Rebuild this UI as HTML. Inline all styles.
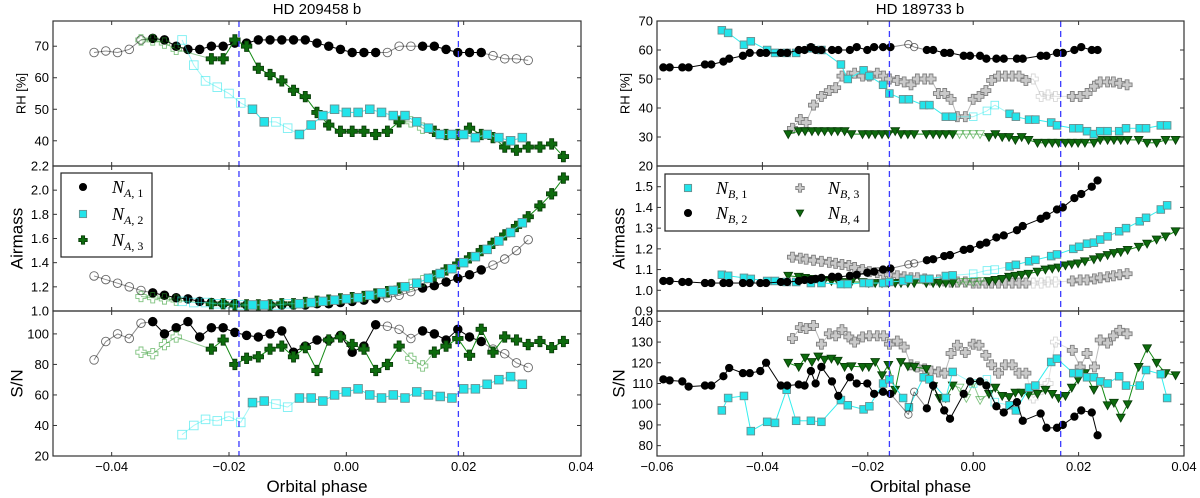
<!DOCTYPE html>
<html><head><meta charset="utf-8">
<style>
html,body{margin:0;padding:0;background:#fff;}
svg{display:block;font-family:"Liberation Sans",sans-serif;}
</style></head>
<body>
<svg id="fig" width="1200" height="498" viewBox="0 0 1200 498" xmlns="http://www.w3.org/2000/svg">
<defs>
<clipPath id="cl0"><rect x="53" y="21" width="528" height="145"/></clipPath>
<clipPath id="cl1"><rect x="53" y="166" width="528" height="145"/></clipPath>
<clipPath id="cl2"><rect x="53" y="311" width="528" height="145"/></clipPath>
<clipPath id="cr0"><rect x="657" y="21" width="527" height="145"/></clipPath>
<clipPath id="cr1"><rect x="657" y="166" width="527" height="145"/></clipPath>
<clipPath id="cr2"><rect x="657" y="311" width="527" height="145"/></clipPath>
</defs>
<text x="317" y="14" font-size="15" text-anchor="middle">HD 209458 b</text>
<text x="920" y="14" font-size="15" text-anchor="middle">HD 189733 b</text>
<g id="content"></g>
</svg>
<script>
// ---------- LEFT: HD 209458 b ----------
const phasesA1 = [-0.043,-0.041,-0.039,-0.037,-0.035,-0.033,-0.031,-0.029,-0.027,-0.025,-0.023,-0.021,-0.019,-0.017,-0.015,-0.013,-0.011,-0.009,-0.007,-0.005,-0.003,-0.001,0.001,0.003,0.005,0.007,0.009,0.011,0.013,0.015,0.017,0.019,0.021,0.023,0.025,0.027,0.029,0.031];
const rhA1 = [68,68.5,68,69,72,72.5,72,70,69,69,70,70,71,71,72,72,72,72,72,71,70,69,68,68,68,68,70,70,70,70,69,68,68,68,67,66,66,65.5];
const amA1 = [1.29,1.26,1.23,1.20,1.17,1.15,1.13,1.11,1.10,1.08,1.07,1.06,1.06,1.05,1.05,1.05,1.05,1.05,1.05,1.06,1.06,1.07,1.08,1.09,1.10,1.11,1.13,1.16,1.19,1.21,1.24,1.27,1.30,1.34,1.38,1.43,1.50,1.59];
const snA1 = [83,95,100,97,107,108,100,104,108,98,104,104,101,99,98,100,102,88,92,96,96,99,88,92,106,105,103,97,102,100,96,103,98,95,90,87,81,78];
const openA1 = [0,1,2,3,4,25,26,27,34,35,36,37];

const phasesA2 = [-0.028,-0.026,-0.024,-0.022,-0.020,-0.018,-0.016,-0.014,-0.012,-0.010,-0.008,-0.006,-0.004,-0.002,0.000,0.002,0.004,0.006,0.008,0.010,0.012,0.014,0.016,0.018,0.020,0.022,0.024,0.026,0.028,0.030];
const rhA2 = [72,64,59,57,55,52,50,46,46,44,42,45,48,50,49,49,50,49,48,48,46,44,42,42,42,41,42,41,40,41];
const amA2 = [1.08,1.07,1.07,1.06,1.06,1.05,1.05,1.05,1.05,1.06,1.06,1.07,1.08,1.09,1.10,1.11,1.13,1.15,1.17,1.20,1.23,1.27,1.31,1.35,1.40,1.45,1.51,1.58,1.65,1.73];
const snA2 = [34,40,44,43,46,42,55,56,54,52,58,58,56,60,62,64,60,58,60,58,62,60,59,58,64,64,67,70,72,67];
const openA2 = [0,1,2,3,4,5,8,9];

const phasesA3 = [-0.035,-0.033,-0.031,-0.029,-0.023,-0.021,-0.019,-0.017,-0.015,-0.013,-0.011,-0.009,-0.007,-0.005,-0.003,-0.001,0.001,0.003,0.005,0.007,0.009,0.011,0.013,0.015,0.017,0.019,0.021,0.023,0.025,0.027,0.029,0.031,0.033,0.035,0.037];
const rhA3 = [72,72,71,69,66,66,72,70,63,61,59,56,54,49,45,43,43,43,42,43,46,46,44,43,42,42,44,42,41,38,37,38,38,39,35];
const amA3 = [1.12,1.11,1.10,1.09,1.06,1.06,1.05,1.05,1.05,1.05,1.06,1.06,1.07,1.08,1.09,1.10,1.11,1.12,1.14,1.16,1.19,1.22,1.25,1.29,1.34,1.39,1.44,1.50,1.56,1.63,1.70,1.78,1.87,1.97,2.10];
const snA3 = [88,87,93,98,90,96,80,84,85,90,92,85,91,76,96,98,93,90,76,80,92,84,79,88,92,97,86,103,88,98,96,93,95,91,95];
const openA3 = [0,1,2,3,21,22];

const transitLeft = [-0.0183, 0.0191];

// ---------- RIGHT: HD 189733 b ----------
const phasesB1 = [-0.0477,-0.0465,-0.0435,-0.0422,-0.0391,-0.0376,-0.0354,-0.0336,-0.0308,-0.0288,-0.0251,-0.0238,-0.0208,-0.0197,-0.0171,-0.0159,-0.0133,-0.0122,-0.0094,-0.0083,-0.0052,-0.0039,0.0000,0.0026,0.0041,0.0069,0.0081,0.0106,0.0118,0.0148,0.0159,0.0190,0.0201,0.0216,0.0229,0.0241,0.0255,0.0277,0.0290,0.0316,0.0328,0.0356,0.0368];
const rhB1 = [66.8,65.9,61.8,63,60,59,59,59,60.6,60,55,50,53,51,48,45,43,43,41,41,37,37,37,39,41,38,37,36,36,35,34,33,33,32,31,32,32,32,33,33,33,34,34];
const amB1 = [1.075,1.07,1.06,1.055,1.045,1.045,1.04,1.04,1.035,1.035,1.03,1.03,1.035,1.035,1.035,1.04,1.045,1.055,1.055,1.055,1.069,1.072,1.08,1.096,1.10,1.115,1.123,1.14,1.147,1.165,1.173,1.20,1.21,1.225,1.23,1.245,1.26,1.285,1.30,1.333,1.35,1.39,1.41];
const snB1 = [97,103,104,87,91.5,91,107,92,92,91.5,102,99.5,97.5,99,110,112,103,98.5,113,112,103,115.6,110,112,101,99.5,97,108,109,120.4,122,115,115,113,113,111,110,113.5,109,109,116.5,114.5,103];
const openB1 = [22,23,24];

const phasesB2 = [-0.0588,-0.0576,-0.0552,-0.0540,-0.0509,-0.0497,-0.0474,-0.0463,-0.0437,-0.0424,-0.0404,-0.0393,-0.0365,-0.0353,-0.0331,-0.0320,-0.0308,-0.0299,-0.0288,-0.0268,-0.0256,-0.0234,-0.0221,-0.0201,-0.0188,-0.0171,-0.0157,-0.0123,-0.0112,-0.0088,-0.0076,-0.0055,-0.0044,-0.0018,-0.0006,0.0013,0.0025,0.0044,0.0058,0.0083,0.0094,0.0128,0.0139,0.0159,0.0170,0.0192,0.0205,0.0225,0.0236];
const rhB2 = [54,54,54,54,55,55,56,57,58,59,59,59,59,59,60,60,61,60,60,60,60,60,61,60,61,61,61,62,61,60,60,59,59,58,58,58,57,57,57,57,57,58,58,59,59,60,61,60,60];
const amB2 = [1.045,1.045,1.04,1.04,1.035,1.035,1.035,1.035,1.035,1.035,1.035,1.035,1.04,1.04,1.045,1.05,1.05,1.055,1.06,1.065,1.065,1.07,1.075,1.085,1.09,1.10,1.105,1.125,1.13,1.145,1.15,1.165,1.17,1.195,1.20,1.22,1.23,1.255,1.265,1.29,1.31,1.345,1.36,1.39,1.40,1.445,1.465,1.50,1.53];
const snB2 = [112,111.5,111,108.5,109,109,113.5,117.5,115,115,116,120,109,109,109.5,109,116,110,118,111,104,113,110,110,105,106,105,95,106,98,109,97,93,105,111,111,109,99,96,101,92,95.5,88.6,88.6,90,94,97,96,85];
const openB2 = [27,28];

const phasesB3 = [-0.0343,-0.0328,-0.0317,-0.0303,-0.0288,-0.0273,-0.0261,-0.0249,-0.0236,-0.0225,-0.0210,-0.0197,-0.0182,-0.0170,-0.0159,-0.0144,-0.0131,-0.0118,-0.0106,-0.0092,-0.0080,-0.0066,-0.0054,-0.0042,-0.0030,-0.0015,0.0000,0.0011,0.0024,0.0035,0.0048,0.0061,0.0074,0.0087,0.0100,0.0114,0.0129,0.0142,0.0156,0.0188,0.0203,0.0216,0.0230,0.0241,0.0255,0.0266,0.0278,0.0292];
const rhB3 = [33,36,35,41,44,46,47,51,51,52,51,51,52,51,50,49.5,49,48,50,50,50,45,45,43,37,37,43,44,46,49.5,51,51,51,51,49.5,50,44,44.5,44,44,44,45,47.5,49,49,49,48.5,48];
const amB3 = [1.16,1.155,1.15,1.145,1.14,1.135,1.13,1.125,1.12,1.11,1.10,1.09,1.085,1.08,1.075,1.07,1.065,1.06,1.06,1.055,1.05,1.05,1.045,1.04,1.04,1.04,1.035,1.035,1.035,1.035,1.035,1.035,1.035,1.035,1.035,1.035,1.035,1.04,1.04,1.045,1.05,1.05,1.055,1.06,1.065,1.07,1.075,1.08];
const snB3 = [131.7,137,136.5,138,129,134,133,136,132.5,130,132.5,133,133,133,129,130.5,127.6,119,118,117,116,115.6,115,124.5,128.5,125,129,128.5,123.6,119,115,119,119,115,115,103,107,110,130,126,118,124.5,118,131,129.5,133,135.7,134];
const openB3 = [35,36,37,38];

const phasesB4 = [-0.0351,-0.0331,-0.0319,-0.0306,-0.0294,-0.0282,-0.0269,-0.0257,-0.0244,-0.0231,-0.0210,-0.0198,-0.0186,-0.0173,-0.0161,-0.0148,-0.0137,-0.0124,-0.0112,-0.0089,-0.0076,-0.0064,-0.0052,-0.0039,-0.0026,-0.0013,0.0000,0.0013,0.0030,0.0042,0.0055,0.0068,0.0080,0.0092,0.0105,0.0122,0.0137,0.0150,0.0162,0.0175,0.0187,0.0199,0.0212,0.0229,0.0241,0.0255,0.0267,0.0280,0.0293,0.0314,0.0330,0.0348,0.0365,0.0384];
const rhB4 = [31,32,32,32,32,32,32,32,32,31,31,31,31,31,31,32,31,31,31,31,31,31,31,31,31,31,31,31,30,31,30,30,29,30,29,28,28,28,28,28,28,28,28,28,29,29,29,29,29,29,28,28,29,29];
const amB4 = [1.07,1.065,1.06,1.055,1.05,1.05,1.045,1.045,1.04,1.04,1.04,1.035,1.035,1.035,1.035,1.035,1.035,1.035,1.035,1.035,1.035,1.035,1.035,1.035,1.04,1.04,1.04,1.045,1.045,1.05,1.055,1.065,1.07,1.075,1.08,1.09,1.10,1.105,1.11,1.12,1.125,1.13,1.14,1.15,1.16,1.17,1.18,1.185,1.195,1.21,1.225,1.245,1.26,1.285];
const snB4 = [120,118,122.5,120.4,123,121.5,122,121,118,118.3,118,118,120.4,114,119,107,120.4,118.3,118,117,108.7,103,103,109,108,103,110,102,105,108,104,103.5,105.6,105.6,104.7,105,107,105,103,104,108,112,115,107,111,99.5,100.7,93.5,100,118,127,120,115,114];
const openB4 = [24,25,26,27];

const transitRight = [-0.0159, 0.0166];

// axis tick labels
const xTicksLeft = [-0.04,-0.02,0.00,0.02,0.04];
const xTicksRight = [-0.06,-0.04,-0.02,0.00,0.02,0.04];
const yTicksLeftRH = [40,50,60,70];
const yTicksLeftAM = [1.0,1.2,1.4,1.6,1.8,2.0,2.2];
const yTicksLeftSN = [20,40,60,80,100];
const yTicksRightRH = [20,30,40,50,60,70];
const yTicksRightAM = [0.9,1.0,1.1,1.2,1.3,1.4,1.5];
const yTicksRightSN = [80,90,100,110,120,130,140];

// ---------- drawing ----------
const NS = "http://www.w3.org/2000/svg";
const root = document.getElementById('content');
function mk(tag, attrs, parent){
  const e = document.createElementNS(NS, tag);
  for (const k in attrs) e.setAttribute(k, attrs[k]);
  (parent||root).appendChild(e);
  return e;
}
const rows = [[21,166],[166,311],[311,456]];
const panels = {
  L:{x0:53,x1:581,xmin:-0.05,xmax:0.04,ranges:[[32,78],[1.0,2.2],[20,115]],clip:['cl0','cl1','cl2'],
     yt:[yTicksLeftRH,yTicksLeftAM,yTicksLeftSN],xt:xTicksLeft,fmt:[0,1,0],lblX:[21,17,17]},
  R:{x0:657,x1:1184,xmin:-0.06,xmax:0.04,ranges:[[20,70],[0.9,1.6],[75,145]],clip:['cr0','cr1','cr2'],
     yt:[yTicksRightRH,yTicksRightAM,yTicksRightSN],xt:xTicksRight,fmt:[0,1,0],lblX:[625,619,619]}
};
function xs(P,v){return P.x0+(v-P.xmin)/(P.xmax-P.xmin)*(P.x1-P.x0);}
function ys(P,r,v){const [a,b]=P.ranges[r];const [t,bt]=rows[r];return bt-(v-a)/(b-a)*(bt-t);}

function marker(g,type,x,y,s,fill,stroke,op){
  let e;
  if(type==='circle'){e=mk('circle',{cx:x,cy:y,r:s},g);}
  else if(type==='square'){e=mk('rect',{x:x-s,y:y-s,width:2*s,height:2*s},g);}
  else if(type==='tri'){e=mk('polygon',{points:`${x-s},${y-s*0.8} ${x+s},${y-s*0.8} ${x},${y+s}`},g);}
  else if(type==='plus'){const a=s, w=s*0.38;
    e=mk('polygon',{points:`${x-w},${y-a} ${x+w},${y-a} ${x+w},${y-w} ${x+a},${y-w} ${x+a},${y+w} ${x+w},${y+w} ${x+w},${y+a} ${x-w},${y+a} ${x-w},${y+w} ${x-a},${y+w} ${x-a},${y-w} ${x-w},${y-w}`},g);}
  e.setAttribute('fill',fill);e.setAttribute('stroke',stroke);e.setAttribute('stroke-width','0.9');
  if(op!==undefined)e.setAttribute('opacity',op);
  return e;
}

function series(P,r,name,phases,vals,openIdx,st){
  const g=mk('g',{'clip-path':`url(#${P.clip[r]})`});
  
  
  const pts=phases.map((p,i)=>[xs(P,p),ys(P,r,vals[i])]);
  for(let i=0;i<pts.length-1;i++){
    const op=(openIdx.includes(i)||openIdx.includes(i+1))?0.45:1;
    mk('line',{x1:pts[i][0],y1:pts[i][1],x2:pts[i+1][0],y2:pts[i+1][1],stroke:st.line,'stroke-width':1,opacity:op},g);
  }
  pts.forEach((p,i)=>{
    const isOpen=openIdx.includes(i);
    const m = isOpen ? marker(g,st.m,p[0],p[1],st.s,'none',st.openStroke,0.6)
                     : marker(g,st.m,p[0],p[1],st.s,st.fill,st.edge);
    
    
  });
}

const stA1={m:'circle',s:4.3,fill:'#000',edge:'#000',line:'#000',openStroke:'#000'};
const stA2={m:'square',s:4.3,fill:'#22e4ea',edge:'#6a8f8f',line:'#33eeee',openStroke:'#22e4ea'};
const stA3={m:'plus',s:5.2,fill:'#0d6b0d',edge:'#0a3f0a',line:'#138a13',openStroke:'#2a9a2a'};
const stB1={m:'square',s:3.8,fill:'#22e4ea',edge:'#6a8f8f',line:'#33eeee',openStroke:'#22e4ea'};
const stB2={m:'circle',s:3.7,fill:'#000',edge:'#000',line:'#000',openStroke:'#000'};
const stB3={m:'plus',s:5,fill:'#c9c9c9',edge:'#7f7f7f',line:'#bbbbbb',openStroke:'#bdbdbd'};
const stB4={m:'tri',s:4.3,fill:'#0d6b0d',edge:'#0a3f0a',line:'#138a13',openStroke:'#2a9a2a'};

function axes(P,key){
  for(let r=0;r<3;r++){
    const [t,b]=rows[r];
    const fr=mk('rect',{x:P.x0,y:t,width:P.x1-P.x0,height:b-t,fill:'none',stroke:'#333','stroke-width':1.2});
    
    
    P.yt[r].forEach(v=>{
      const y=ys(P,r,v);
      mk('line',{x1:P.x0,y1:y,x2:P.x0+4,y2:y,stroke:'#333'});
      mk('line',{x1:P.x1,y1:y,x2:P.x1-4,y2:y,stroke:'#333'});
      const tx=mk('text',{x:P.x0-4,y:y+4.5,'font-size':13,'text-anchor':'end'});
      tx.textContent = P.fmt[r]? v.toFixed(1) : String(v);
      
      
    });
    P.xt.forEach(v=>{
      const x=xs(P,v);
      mk('line',{x1:x,y1:t,x2:x,y2:t+4,stroke:'#333'});
      mk('line',{x1:x,y1:b,x2:x,y2:b-4,stroke:'#333'});
    });
  }
  P.xt.forEach(v=>{
    const tx=mk('text',{x:xs(P,v),y:471,'font-size':13,'text-anchor':'middle'});
    tx.textContent=(v<0?'\u2212':'')+Math.abs(v).toFixed(2);
    
    
  });
  const xl=mk('text',{x:(P.x0+P.x1)/2,y:492,'font-size':17,'text-anchor':'middle'});
  xl.textContent='Orbital phase';
  
  
  const labels=['RH [%]','Airmass','S/N'], sz=[13,17,17];
  for(let r=0;r<3;r++){
    const cy=(rows[r][0]+rows[r][1])/2, cx=P.lblX[r];
    const tl=mk('text',{x:cx,y:cy,'font-size':sz[r],'text-anchor':'middle',transform:`rotate(-90 ${cx} ${cy})`,'dominant-baseline':'central'});
    tl.textContent=labels[r];
    
    
  }
}

const L=panels.L, R=panels.R;
[[0,rhA1,rhA2,rhA3],[1,amA1,amA2,amA3],[2,snA1,snA2,snA3]].forEach(([r,a1,a2,a3])=>{
  series(L,r,'series-na1',phasesA1,a1,openA1,stA1);
  series(L,r,'series-na3',phasesA3,a3,openA3,stA3);
  series(L,r,'series-na2',phasesA2,a2,openA2,stA2);
});
[[0,rhB1,rhB2,rhB3,rhB4],[1,amB1,amB2,amB3,amB4],[2,snB1,snB2,snB3,snB4]].forEach(([r,b1,b2,b3,b4])=>{
  series(R,r,'series-nb3',phasesB3,b3,openB3,stB3);
  series(R,r,'series-nb4',phasesB4,b4,openB4,stB4);
  series(R,r,'series-nb1',phasesB1,b1,openB1,stB1);
  series(R,r,'series-nb2',phasesB2,b2,openB2,stB2);
});
[[L,transitLeft,'left'],[R,transitRight,'right']].forEach(([P,arr,k])=>{
  arr.forEach(v=>{
    const ln=mk('line',{x1:xs(P,v),y1:21,x2:xs(P,v),y2:456,stroke:'#3b3bff','stroke-width':1.3,'stroke-dasharray':'6,4'});
    
    
  });
});
axes(L,'left'); axes(R,'right');

function legend(key,box,entries){
  const g=mk('g',{});
  
  
  mk('rect',{x:box[0],y:box[1],width:box[2],height:box[3],fill:'#fff',stroke:'#222','stroke-width':1.2},g);
  entries.forEach(en=>{
    const e=mk('g',{},g);
    
    
    marker(e,en.st.m,en.mx,en.y,en.st.m==='plus'?4.2:3.6,en.st.fill,en.st.edge);
    const t=mk('text',{x:en.tx,y:en.y+6,'font-size':18,'font-family':'"Liberation Serif",serif','font-style':'italic'},e);
    t.textContent='N';
    const s=mk('tspan',{'font-size':12,dy:4},t); s.textContent=en.sub[0];
    const s2=mk('tspan',{'font-size':12,'font-style':'normal'},t); s2.textContent=', '+en.sub[1];
  });
}
legend('left',[61,173,91,84],[
  {id:'na1',st:stA1,mx:83,tx:112,y:187,sub:['A','1']},
  {id:'na2',st:stA2,mx:83,tx:112,y:214,sub:['A','2']},
  {id:'na3',st:stA3,mx:83,tx:112,y:240,sub:['A','3']}]);
legend('right',[665,174,204,57],[
  {id:'nb1',st:stB1,mx:688,tx:716,y:188,sub:['B','1']},
  {id:'nb2',st:stB2,mx:688,tx:716,y:213,sub:['B','2']},
  {id:'nb3',st:stB3,mx:800,tx:828,y:188,sub:['B','3']},
  {id:'nb4',st:stB4,mx:800,tx:828,y:213,sub:['B','4']}]);
</script>
</body></html>
